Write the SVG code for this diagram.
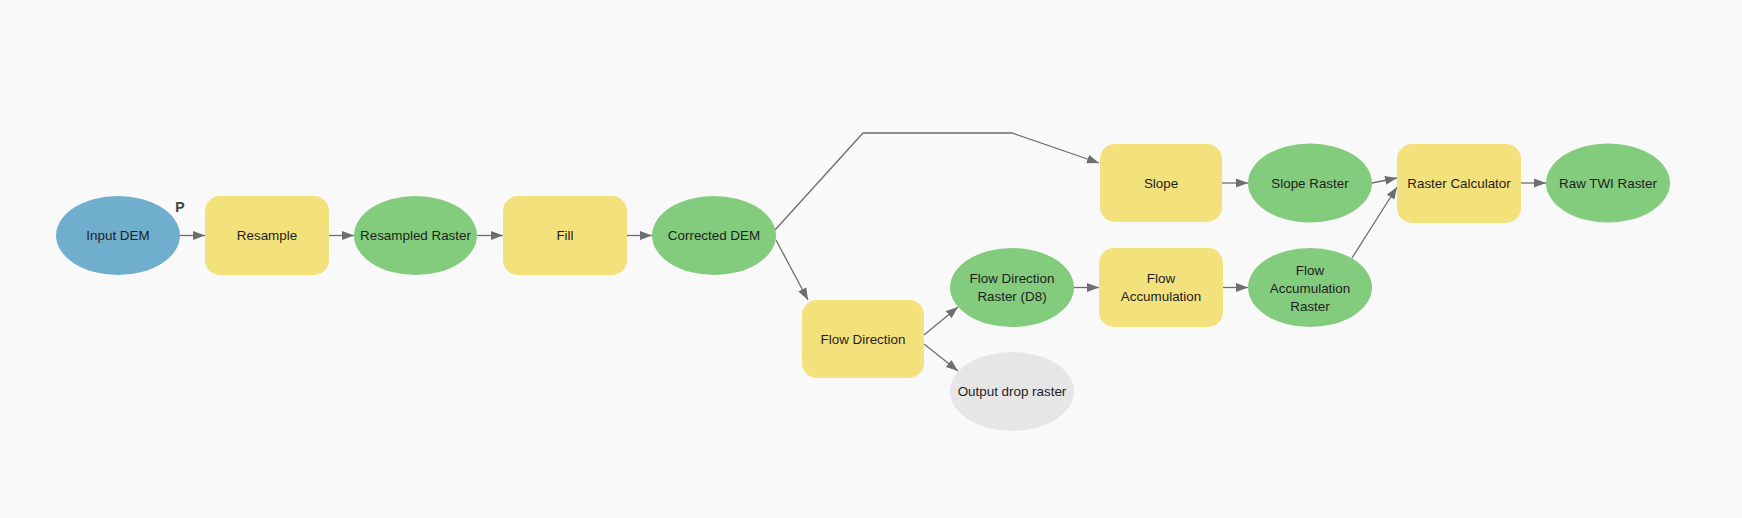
<svg xmlns="http://www.w3.org/2000/svg" width="1742" height="518" viewBox="0 0 1742 518">
<defs>
<marker id="ah" viewBox="0 0 12 9" refX="12" refY="4.5" markerWidth="12" markerHeight="9" markerUnits="userSpaceOnUse" orient="auto">
<path d="M0,0 L12,4.5 L0,9 Z" fill="#6e6e6e"/>
</marker>
<style>
.t{font-family:"Liberation Sans",Arial,sans-serif;font-size:13.4px;fill:#1e1e1e;text-anchor:middle}
.tool{fill:#F3E17B}
.data{fill:#83CC7D}
.inp{fill:#6FAFCD}
.drop{fill:#E6E6E6}
.c{stroke:#6e6e6e;stroke-width:1.3;fill:none;marker-end:url(#ah)}
</style>
</defs>
<rect width="1742" height="518" fill="#F9F9F9"/>
<g id="connectors">
<line class="c" x1="180" y1="235.5" x2="205" y2="235.5"/>
<line class="c" x1="329" y1="235.5" x2="354" y2="235.5"/>
<line class="c" x1="477" y1="235.5" x2="503" y2="235.5"/>
<line class="c" x1="627" y1="235.5" x2="652" y2="235.5"/>
<polyline class="c" points="775,230 863,133 1012,133 1099,163"/>
<line class="c" x1="776" y1="240" x2="808" y2="300"/>
<line class="c" x1="924" y1="335" x2="958" y2="307"/>
<line class="c" x1="924" y1="344" x2="958" y2="371"/>
<line class="c" x1="1074" y1="287.5" x2="1099" y2="287.5"/>
<line class="c" x1="1223" y1="287.5" x2="1248" y2="287.5"/>
<line class="c" x1="1222" y1="183" x2="1248" y2="183"/>
<line class="c" x1="1372" y1="183" x2="1397" y2="178"/>
<line class="c" x1="1352" y1="258" x2="1397" y2="187"/>
<line class="c" x1="1521" y1="183" x2="1546" y2="183"/>
</g>
<g id="input-dem">
<ellipse class="inp" cx="118" cy="235.5" rx="62" ry="39.5"/>
<text class="t" x="118" y="240">Input DEM</text>
<text x="180" y="211.5" style="font-family:'Liberation Sans',Arial,sans-serif;font-size:14px;font-weight:bold;fill:#444;text-anchor:middle">P</text>
</g>
<g id="resample">
<rect class="tool" x="205" y="196" width="124" height="79" rx="15"/>
<text class="t" x="267" y="240">Resample</text>
</g>
<g id="resampled-raster">
<ellipse class="data" cx="415.5" cy="235.5" rx="61.5" ry="39.5"/>
<text class="t" x="415.5" y="240">Resampled Raster</text>
</g>
<g id="fill">
<rect class="tool" x="503" y="196" width="124" height="79" rx="15"/>
<text class="t" x="565" y="240">Fill</text>
</g>
<g id="corrected-dem">
<ellipse class="data" cx="714" cy="235.5" rx="62" ry="39.5"/>
<text class="t" x="714" y="240">Corrected DEM</text>
</g>
<g id="flow-direction">
<rect class="tool" x="802" y="300" width="122" height="78" rx="15"/>
<text class="t" x="863" y="344">Flow Direction</text>
</g>
<g id="flow-direction-raster">
<ellipse class="data" cx="1012" cy="287.5" rx="62" ry="39.5"/>
<text class="t" x="1012" y="283">Flow Direction</text>
<text class="t" x="1012" y="301">Raster (D8)</text>
</g>
<g id="output-drop-raster">
<ellipse class="drop" cx="1012" cy="391.5" rx="62" ry="39.5"/>
<text class="t" x="1012" y="396">Output drop raster</text>
</g>
<g id="flow-accumulation">
<rect class="tool" x="1099" y="248" width="124" height="79" rx="15"/>
<text class="t" x="1161" y="283">Flow</text>
<text class="t" x="1161" y="301">Accumulation</text>
</g>
<g id="flow-accumulation-raster">
<ellipse class="data" cx="1310" cy="287.5" rx="62" ry="39.5"/>
<text class="t" x="1310" y="275">Flow</text>
<text class="t" x="1310" y="293">Accumulation</text>
<text class="t" x="1310" y="311">Raster</text>
</g>
<g id="slope">
<rect class="tool" x="1100" y="144" width="122" height="78" rx="15"/>
<text class="t" x="1161" y="188">Slope</text>
</g>
<g id="slope-raster">
<ellipse class="data" cx="1310" cy="183" rx="62" ry="39.5"/>
<text class="t" x="1310" y="188">Slope Raster</text>
</g>
<g id="raster-calculator">
<rect class="tool" x="1397" y="144" width="124" height="79" rx="15"/>
<text class="t" x="1459" y="188">Raster Calculator</text>
</g>
<g id="raw-twi-raster">
<ellipse class="data" cx="1608" cy="183" rx="62" ry="39.5"/>
<text class="t" x="1608" y="188">Raw TWI Raster</text>
</g>
</svg>
